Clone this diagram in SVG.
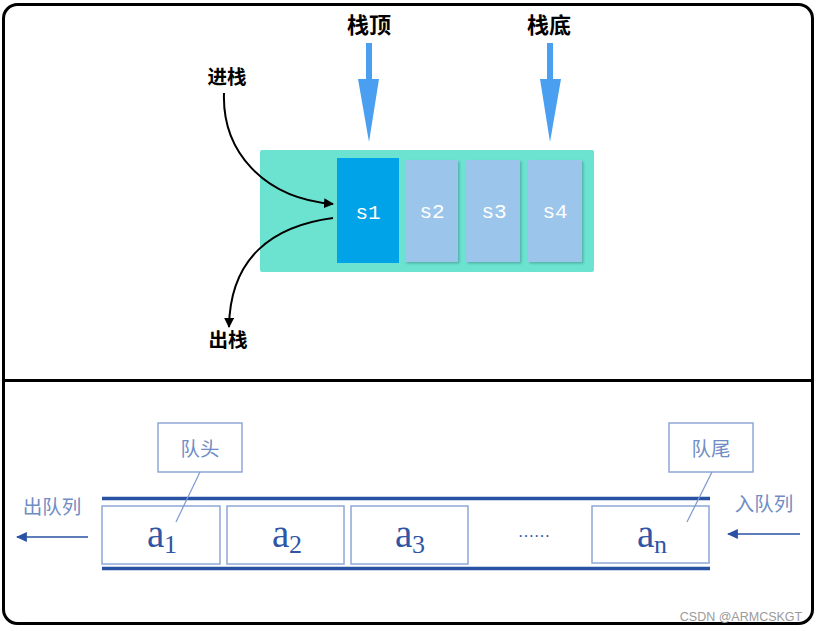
<svg xmlns="http://www.w3.org/2000/svg" width="817" height="631" viewBox="0 0 817 631">
<defs>
<style>
.cjkb{font-family:"Noto Sans CJK SC","Noto Sans CJK JP",sans-serif;font-weight:bold;fill:#000}
.cell{font-family:"Liberation Mono","DejaVu Sans Mono",monospace;font-size:21px;fill:#fff;text-anchor:middle}
.qbox{fill:#fff;stroke:#8ea8d8;stroke-width:1.5}
.qlbl{font-family:"Noto Sans CJK SC",sans-serif;font-size:19.5px;fill:#6f8cc4}
.qa{font-family:"Liberation Serif",serif;fill:#2f55a4}
.big{font-size:39px}
.sub{font-size:26px}
.rail{stroke:#2a52a3;stroke-width:3.5}
.light{fill:#9cc5eb}
</style>
<marker id="blk" viewBox="0 0 10 10" refX="9" refY="5" markerWidth="10" markerHeight="10" markerUnits="userSpaceOnUse" orient="auto">
<path d="M0,0 L10,5 L0,10 z" fill="#000"/>
</marker>
<marker id="blu" viewBox="0 0 10 10" refX="9" refY="5" markerWidth="11" markerHeight="11" markerUnits="userSpaceOnUse" orient="auto">
<path d="M0,0.5 L10,5 L0,9.5 z" fill="#2a52a3"/>
</marker>
<filter id="sh" x="-20%" y="-20%" width="140%" height="140%">
<feDropShadow dx="1.5" dy="1.5" stdDeviation="1" flood-color="#3a8f86" flood-opacity="0.6"/>
</filter>
</defs>
<rect x="3.5" y="4.5" width="809" height="619" rx="14" fill="#fff" stroke="#000" stroke-width="3"/>
<line x1="3.5" y1="380.5" x2="812.5" y2="380.5" stroke="#000" stroke-width="3"/>

<g id="stack">
<rect x="260" y="150" width="334" height="122" rx="2" fill="#6ce3d0"/>
<g id="s1"><rect x="337" y="158" width="62" height="105" fill="#00a2e8"/><text class="cell" x="368" y="219">s1</text></g>
<g id="s2"><rect class="light" x="405" y="160" width="53" height="102" filter="url(#sh)"/><text class="cell" x="432" y="218">s2</text></g>
<g id="s3"><rect class="light" x="466" y="160" width="54" height="102" filter="url(#sh)"/><text class="cell" x="494" y="218">s3</text></g>
<g id="s4"><rect class="light" x="528" y="160" width="54" height="102" filter="url(#sh)"/><text class="cell" x="555" y="218">s4</text></g>
</g>

<g id="top-label"><text class="cjkb" x="369" y="33" font-size="22" text-anchor="middle">栈顶</text>
<path d="M366,43 H372 V79 H379 L369,142 L358,79 H366 z" fill="#4a9ff0"/></g>
<g id="bottom-label"><text class="cjkb" x="549" y="33" font-size="22" text-anchor="middle">栈底</text>
<path d="M547,43 H553 V79 H561 L550,142 L540,79 H547 z" fill="#4a9ff0"/></g>
<g id="push"><text class="cjkb" x="227" y="84" font-size="19.5" text-anchor="middle">进栈</text></g>
<g id="pop"><text class="cjkb" x="228" y="347" font-size="19.5" text-anchor="middle">出栈</text></g>

<g id="queue">
<line class="rail" x1="102" y1="498.5" x2="710" y2="498.5"/>
<line class="rail" x1="102" y1="568.5" x2="710" y2="568.5"/>
<g id="a1"><rect class="qbox" x="102" y="506" width="118" height="58"/><text class="qa"><tspan class="big" x="147" y="547">a</tspan><tspan class="sub" x="164" y="553">1</tspan></text></g>
<g id="a2"><rect class="qbox" x="227" y="506" width="117" height="58"/><text class="qa"><tspan class="big" x="272" y="547">a</tspan><tspan class="sub" x="289" y="553">2</tspan></text></g>
<g id="a3"><rect class="qbox" x="351" y="506" width="117" height="58"/><text class="qa"><tspan class="big" x="395" y="547">a</tspan><tspan class="sub" x="412" y="553">3</tspan></text></g>
<g id="dots"><text class="qa" x="534" y="537" font-size="16" text-anchor="middle">……</text></g>
<g id="an"><rect class="qbox" x="592" y="506" width="117" height="57"/><text class="qa"><tspan class="big" x="637" y="547">a</tspan><tspan class="sub" x="654" y="553">n</tspan></text></g>
</g>
<g id="head"><rect class="qbox" x="158" y="423" width="84" height="49"/><text class="qlbl" x="200" y="456" text-anchor="middle">队头</text></g>
<g id="tail"><rect class="qbox" x="669" y="423" width="84" height="49"/><text class="qlbl" x="711" y="456" text-anchor="middle">队尾</text></g>
<g id="dequeue"><text class="qlbl" x="52" y="514" text-anchor="middle">出队列</text></g>
<g id="enqueue"><text class="qlbl" x="764" y="511" text-anchor="middle">入队列</text></g>

<g id="connectors" fill="none">
<path d="M224,93 C222,150 262,198 333,204" stroke="#000" stroke-width="2" marker-end="url(#blk)"/>
<path d="M333,218 C272,226 230,258 229,327" stroke="#000" stroke-width="2" marker-end="url(#blk)"/>
<line x1="88" y1="537" x2="17" y2="537" stroke="#2a52a3" stroke-width="1.5" marker-end="url(#blu)"/>
<line x1="800" y1="534" x2="728" y2="534" stroke="#2a52a3" stroke-width="1.5" marker-end="url(#blu)"/>
<line x1="200" y1="472" x2="176" y2="522" stroke="#7f9ad0" stroke-width="1.2"/>
<line x1="712" y1="472" x2="687" y2="522" stroke="#7f9ad0" stroke-width="1.2"/>
</g>
<text x="741" y="621" font-family="Liberation Sans,sans-serif" font-size="12.5" fill="#9a9a9a" text-anchor="middle">CSDN @ARMCSKGT</text>
</svg>
